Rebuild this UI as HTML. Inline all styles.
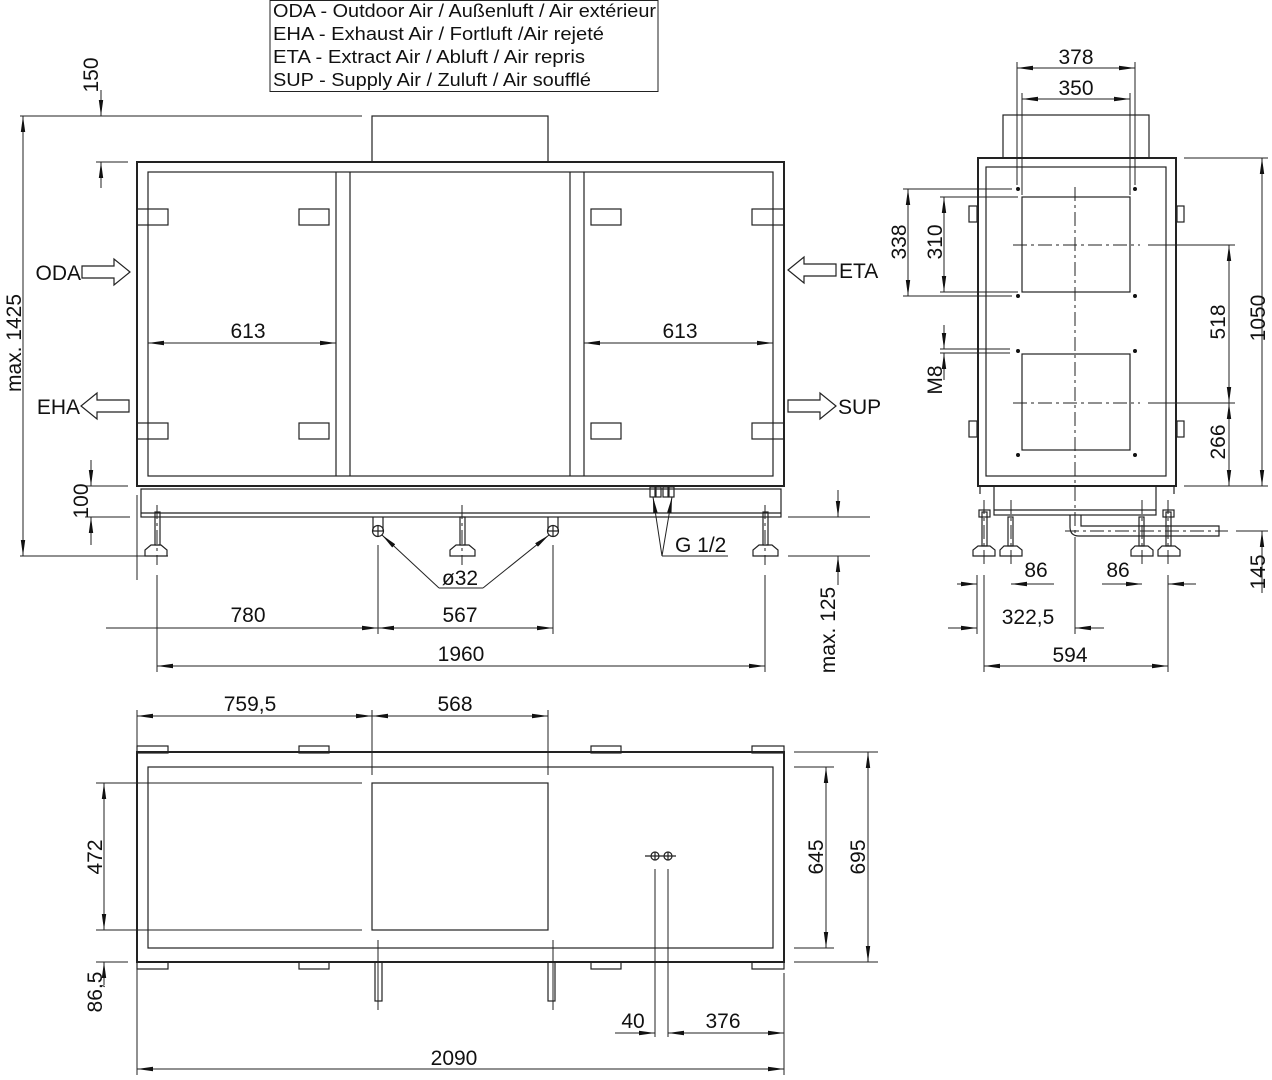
<!DOCTYPE html>
<html><head><meta charset="utf-8"><style>
html,body{margin:0;padding:0;background:#fff;}
svg{display:block;}
text{font-family:"Liberation Sans","DejaVu Sans",sans-serif;font-size:21px;fill:#111;}
.m{text-anchor:middle;}
.l{stroke:#222;stroke-width:1.2;fill:none;}
.t{stroke:#222;stroke-width:2;fill:none;}
.d{stroke:#222;stroke-width:1;fill:none;}
.c{stroke:#222;stroke-width:1;fill:none;stroke-dasharray:14 4 3 4;}
</style></head><body>
<svg width="1272" height="1080" viewBox="0 0 1272 1080" xmlns="http://www.w3.org/2000/svg">
<defs>
<marker id="a" viewBox="0 0 16 6" refX="16" refY="3" markerWidth="16" markerHeight="6" orient="auto-start-reverse" markerUnits="userSpaceOnUse"><path d="M0,0.8 L16,3 L0,5.2z" fill="#111"/></marker>
</defs>

<!-- Legend -->
<rect x="270" y="0.5" width="388" height="91" class="d"/>
<text x="273" y="17" style="font-size:18px" textLength="383" lengthAdjust="spacingAndGlyphs">ODA - Outdoor Air / Außenluft / Air extérieur</text>
<text x="273" y="40" style="font-size:18px" textLength="331" lengthAdjust="spacingAndGlyphs">EHA - Exhaust Air / Fortluft /Air rejeté</text>
<text x="273" y="63" style="font-size:18px" textLength="312" lengthAdjust="spacingAndGlyphs">ETA - Extract Air / Abluft / Air repris</text>
<text x="273" y="86" style="font-size:18px" textLength="318" lengthAdjust="spacingAndGlyphs">SUP - Supply Air / Zuluft / Air soufflé</text>

<!-- ===== FRONT VIEW ===== -->
<rect x="372" y="116" width="176" height="46" class="l"/>
<rect x="137" y="162" width="647" height="324" class="t"/>
<rect x="148" y="172" width="625" height="304" class="l"/>
<line x1="336" y1="172" x2="336" y2="476" class="l"/><line x1="350" y1="172" x2="350" y2="476" class="l"/>
<line x1="570" y1="172" x2="570" y2="476" class="l"/><line x1="584" y1="172" x2="584" y2="476" class="l"/>
<g class="l" fill="#fff">
<rect x="137" y="209" width="31" height="16"/><rect x="299" y="209" width="30" height="16"/>
<rect x="591" y="209" width="30" height="16"/><rect x="752" y="209" width="32" height="16"/>
<rect x="137" y="423" width="31" height="16"/><rect x="299" y="423" width="30" height="16"/>
<rect x="591" y="423" width="30" height="16"/><rect x="752" y="423" width="32" height="16"/>
</g>
<rect x="141" y="489" width="640" height="28" class="l"/>
<line x1="141" y1="513" x2="781" y2="513" class="l"/>
<g class="l">
<rect x="155" y="512" width="5" height="33"/><path d="M151,545 h10 l6,5 v6 h-22 v-6z"/>
<rect x="460" y="517" width="5" height="28"/><path d="M456,545 h13 l6,5 v6 h-25 v-6z"/>
<rect x="763" y="512" width="5" height="33"/><path d="M759,545 h13 l6,5 v6 h-25 v-6z"/>
<path d="M373,517 v14 M383,517 v14"/><circle cx="378" cy="531" r="5.5"/><path d="M372.5,531 h11 M378,525.5 v11"/>
<path d="M548,517 v14 M558,517 v14"/><circle cx="553" cy="531" r="5.5"/><path d="M547.5,531 h11 M553,525.5 v11"/>
<rect x="650" y="487" width="5" height="10"/><rect x="656" y="487" width="5" height="10"/>
<rect x="663" y="487" width="5" height="10"/><rect x="669" y="487" width="5" height="10"/>
</g>
<g class="c"><line x1="157" y1="505" x2="157" y2="565"/><line x1="462" y1="505" x2="462" y2="565"/><line x1="765" y1="505" x2="765" y2="565"/></g>

<path d="M82,266 h32 v-7 l16,13 l-16,13 v-7 h-32z" class="l"/>
<text x="81" y="280" text-anchor="end">ODA</text>
<path d="M129,400 h-32 v-7 l-16,13 l16,13 v-7 h32z" class="l"/>
<text x="80" y="414" text-anchor="end">EHA</text>
<path d="M836,264 h-32 v-7 l-16,13 l16,13 v-7 h32z" class="l"/>
<text x="839" y="278">ETA</text>
<path d="M788,400 h32 v-7 l16,13 l-16,13 v-7 h-32z" class="l"/>
<text x="838" y="414">SUP</text>

<g class="d">
<line x1="20" y1="116" x2="362" y2="116"/>
<line x1="96" y1="162" x2="128" y2="162"/>
<line x1="101" y1="90" x2="101" y2="116" marker-end="url(#a)"/>
<line x1="101" y1="188" x2="101" y2="162" marker-end="url(#a)"/>
<line x1="23" y1="116" x2="23" y2="556" marker-start="url(#a)" marker-end="url(#a)"/>
<line x1="20" y1="556" x2="168" y2="556"/>
<line x1="148" y1="343" x2="336" y2="343" marker-start="url(#a)" marker-end="url(#a)"/>
<line x1="584" y1="343" x2="773" y2="343" marker-start="url(#a)" marker-end="url(#a)"/>
<line x1="85" y1="486" x2="128" y2="486"/><line x1="85" y1="517" x2="130" y2="517"/>
<line x1="91" y1="460" x2="91" y2="486" marker-end="url(#a)"/>
<line x1="91" y1="545" x2="91" y2="517" marker-end="url(#a)"/>
<line x1="137" y1="495" x2="137" y2="580"/>
<line x1="157" y1="575" x2="157" y2="672"/>
<line x1="378" y1="545" x2="378" y2="634"/>
<line x1="553" y1="545" x2="553" y2="634"/>
<line x1="765" y1="575" x2="765" y2="672"/>
<line x1="106" y1="628" x2="378" y2="628" marker-end="url(#a)"/>
<line x1="378" y1="628" x2="553" y2="628" marker-start="url(#a)" marker-end="url(#a)"/>
<line x1="157" y1="666" x2="765" y2="666" marker-start="url(#a)" marker-end="url(#a)"/>
<line x1="439" y1="588" x2="382" y2="535" marker-end="url(#a)"/>
<line x1="439" y1="588" x2="483" y2="588"/>
<line x1="483" y1="588" x2="549" y2="535" marker-end="url(#a)"/>
<line x1="662" y1="556" x2="653" y2="497" marker-end="url(#a)"/>
<line x1="662" y1="556" x2="672" y2="497" marker-end="url(#a)"/>
<line x1="662" y1="556" x2="728" y2="556"/>
<line x1="788" y1="517" x2="870" y2="517"/><line x1="788" y1="556" x2="870" y2="556"/>
<line x1="838" y1="490" x2="838" y2="517" marker-end="url(#a)"/>
<line x1="838" y1="585" x2="838" y2="556" marker-end="url(#a)"/>
</g>
<text class="m" transform="translate(98,75) rotate(-90)">150</text>
<text class="m" transform="translate(21,343) rotate(-90)">max. 1425</text>
<text class="m" x="248" y="338">613</text>
<text class="m" x="680" y="338">613</text>
<text class="m" transform="translate(88,501) rotate(-90)">100</text>
<text class="m" x="248" y="622">780</text>
<text class="m" x="460" y="622">567</text>
<text class="m" x="460" y="585">ø32</text>
<text class="m" x="461" y="661">1960</text>
<text x="675" y="552">G 1/2</text>
<text class="m" transform="translate(835,630) rotate(-90)">max. 125</text>

<!-- ===== SIDE VIEW ===== -->
<rect x="1003" y="115" width="146" height="43" class="l"/>
<rect x="978" y="158" width="198" height="328" class="t"/>
<rect x="986" y="167" width="180" height="309" class="l"/>
<rect x="1022" y="197" width="108" height="95" class="l"/>
<rect x="1022" y="354" width="108" height="96" class="l"/>
<g fill="#111"><circle cx="1018" cy="189" r="2"/><circle cx="1135" cy="189" r="2"/><circle cx="1018" cy="296" r="2"/><circle cx="1135" cy="296" r="2"/>
<circle cx="1018" cy="351" r="2"/><circle cx="1135" cy="351" r="2"/><circle cx="1018" cy="455" r="2"/><circle cx="1135" cy="455" r="2"/></g>
<g class="c">
<line x1="1075" y1="187" x2="1075" y2="540"/>
<line x1="1013" y1="245" x2="1140" y2="245"/>
<line x1="1013" y1="403" x2="1140" y2="403"/>
</g>
<g class="l" fill="#fff">
<rect x="969" y="206" width="8" height="16"/><rect x="969" y="421" width="8" height="16"/>
<rect x="1177" y="206" width="7" height="16"/><rect x="1177" y="421" width="7" height="16"/>
</g>
<g class="l">
<rect x="994" y="486" width="162" height="29"/>
<line x1="994" y1="510" x2="1156" y2="510"/>
<line x1="980" y1="486" x2="980" y2="494"/><line x1="1174" y1="486" x2="1174" y2="494"/>
<rect x="982" y="512" width="5" height="34"/><rect x="979" y="510" width="11" height="7"/>
<path d="M978,546 h12 l5,4 v6 h-22 v-6z"/>
<rect x="1008" y="517" width="5" height="29"/><path d="M1004,546 h13 l5,4 v6 h-22 v-6z"/>
<rect x="1139" y="517" width="5" height="29"/><path d="M1135,546 h13 l5,4 v6 h-22 v-6z"/>
<rect x="1166" y="512" width="5" height="34"/><rect x="1163" y="510" width="11" height="7"/>
<path d="M1162,546 h13 l5,4 v6 h-22 v-6z"/>
<path d="M1070,515 v12 q0,9 9,9 h140 v-10 h-138 v-11"/>
</g>
<g class="c"><line x1="984" y1="500" x2="984" y2="565"/><line x1="1011" y1="500" x2="1011" y2="565"/><line x1="1142" y1="500" x2="1142" y2="565"/><line x1="1168" y1="500" x2="1168" y2="565"/><line x1="1065" y1="531" x2="1228" y2="531"/></g>
<g class="d">
<line x1="1017" y1="62" x2="1017" y2="185"/><line x1="1135" y1="62" x2="1135" y2="185"/>
<line x1="1022" y1="93" x2="1022" y2="195"/><line x1="1130" y1="93" x2="1130" y2="195"/>
<line x1="1017" y1="68" x2="1135" y2="68" marker-start="url(#a)" marker-end="url(#a)"/>
<line x1="1022" y1="99" x2="1130" y2="99" marker-start="url(#a)" marker-end="url(#a)"/>
<line x1="903" y1="189" x2="1012" y2="189"/><line x1="903" y1="296" x2="1012" y2="296"/>
<line x1="940" y1="197" x2="1018" y2="197"/><line x1="940" y1="292" x2="1018" y2="292"/>
<line x1="908" y1="189" x2="908" y2="296" marker-start="url(#a)" marker-end="url(#a)"/>
<line x1="944" y1="197" x2="944" y2="292" marker-start="url(#a)" marker-end="url(#a)"/>
<line x1="940" y1="349" x2="1010" y2="349"/><line x1="940" y1="353" x2="1010" y2="353"/>
<line x1="944" y1="325" x2="944" y2="349" marker-end="url(#a)"/>
<line x1="944" y1="380" x2="944" y2="353" marker-end="url(#a)"/>
<line x1="1148" y1="245" x2="1235" y2="245"/><line x1="1148" y1="403" x2="1235" y2="403"/>
<line x1="1184" y1="158" x2="1268" y2="158"/><line x1="1184" y1="486" x2="1268" y2="486"/>
<line x1="1229" y1="245" x2="1229" y2="403" marker-start="url(#a)" marker-end="url(#a)"/>
<line x1="1229" y1="403" x2="1229" y2="486" marker-start="url(#a)" marker-end="url(#a)"/>
<line x1="1262" y1="158" x2="1262" y2="486" marker-start="url(#a)" marker-end="url(#a)"/>
<line x1="1236" y1="531" x2="1268" y2="531"/>
<line x1="1262" y1="593" x2="1262" y2="531" marker-end="url(#a)"/>
<line x1="977" y1="575" x2="977" y2="634"/>
<line x1="984" y1="575" x2="984" y2="672"/>
<line x1="1168" y1="575" x2="1168" y2="672"/>
<line x1="957" y1="584" x2="977" y2="584" marker-end="url(#a)"/>
<line x1="1054" y1="584" x2="1011" y2="584" marker-end="url(#a)"/>
<line x1="1102" y1="584" x2="1142" y2="584" marker-end="url(#a)"/>
<line x1="1196" y1="584" x2="1168" y2="584" marker-end="url(#a)"/>
<line x1="948" y1="628" x2="977" y2="628" marker-end="url(#a)"/>
<line x1="1104" y1="628" x2="1075" y2="628" marker-end="url(#a)"/>
<line x1="1075" y1="540" x2="1075" y2="634"/>
<line x1="984" y1="666" x2="1168" y2="666" marker-start="url(#a)" marker-end="url(#a)"/>
</g>
<text class="m" x="1076" y="64">378</text>
<text class="m" x="1076" y="95">350</text>
<text class="m" transform="translate(906,242) rotate(-90)">338</text>
<text class="m" transform="translate(942,242) rotate(-90)">310</text>
<text class="m" transform="translate(942,380) rotate(-90)">M8</text>
<text class="m" transform="translate(1225,322) rotate(-90)">518</text>
<text class="m" transform="translate(1225,442) rotate(-90)">266</text>
<text class="m" transform="translate(1265,318) rotate(-90)">1050</text>
<text class="m" transform="translate(1265,572) rotate(-90)">145</text>
<text class="m" x="1036" y="577">86</text>
<text class="m" x="1118" y="577">86</text>
<text class="m" x="1028" y="624">322,5</text>
<text class="m" x="1070" y="662">594</text>

<!-- ===== BOTTOM VIEW ===== -->
<rect x="137" y="752" width="647" height="210" class="t"/>
<rect x="148" y="767" width="625" height="181" class="l"/>
<rect x="372" y="783" width="176" height="147" class="l"/>
<g class="l" fill="#fff">
<rect x="137" y="746" width="31" height="7"/><rect x="299" y="746" width="30" height="7"/>
<rect x="591" y="746" width="30" height="7"/><rect x="752" y="746" width="32" height="7"/>
<rect x="137" y="962" width="31" height="7"/><rect x="299" y="962" width="30" height="7"/>
<rect x="591" y="962" width="30" height="7"/><rect x="752" y="962" width="32" height="7"/>
<rect x="375" y="962" width="7" height="39"/><rect x="548" y="962" width="7" height="39"/>
</g>
<g class="l"><circle cx="655" cy="856" r="4"/><circle cx="668" cy="856" r="4"/><line x1="645" y1="856" x2="676" y2="856"/><line x1="655" y1="852" x2="655" y2="860"/><line x1="668" y1="852" x2="668" y2="860"/></g>
<g class="d">
<line x1="137" y1="710" x2="137" y2="1075"/>
<line x1="372" y1="710" x2="372" y2="775"/><line x1="548" y1="710" x2="548" y2="775"/>
<line x1="378" y1="940" x2="378" y2="1010"/><line x1="553" y1="940" x2="553" y2="1010"/>
<line x1="137" y1="716" x2="372" y2="716" marker-start="url(#a)" marker-end="url(#a)"/>
<line x1="372" y1="716" x2="548" y2="716" marker-start="url(#a)" marker-end="url(#a)"/>
<line x1="96" y1="783" x2="362" y2="783"/><line x1="96" y1="930" x2="362" y2="930"/>
<line x1="96" y1="962" x2="128" y2="962"/>
<line x1="104" y1="783" x2="104" y2="930" marker-start="url(#a)" marker-end="url(#a)"/>
<line x1="104" y1="985" x2="104" y2="962" marker-end="url(#a)"/>
<line x1="794" y1="752" x2="878" y2="752"/><line x1="794" y1="767" x2="834" y2="767"/>
<line x1="794" y1="948" x2="834" y2="948"/><line x1="794" y1="962" x2="878" y2="962"/>
<line x1="826" y1="767" x2="826" y2="948" marker-start="url(#a)" marker-end="url(#a)"/>
<line x1="868" y1="752" x2="868" y2="962" marker-start="url(#a)" marker-end="url(#a)"/>
<line x1="655" y1="869" x2="655" y2="1037"/><line x1="668" y1="869" x2="668" y2="1037"/>
<line x1="784" y1="973" x2="784" y2="1075"/>
<line x1="615" y1="1033" x2="655" y2="1033" marker-end="url(#a)"/>
<line x1="668" y1="1033" x2="784" y2="1033" marker-start="url(#a)" marker-end="url(#a)"/>
<line x1="137" y1="1069" x2="784" y2="1069" marker-start="url(#a)" marker-end="url(#a)"/>
</g>
<text class="m" x="250" y="711">759,5</text>
<text class="m" x="455" y="711">568</text>
<text class="m" transform="translate(102,857) rotate(-90)">472</text>
<text class="m" transform="translate(102,992) rotate(-90)">86,5</text>
<text class="m" transform="translate(823,857) rotate(-90)">645</text>
<text class="m" transform="translate(865,857) rotate(-90)">695</text>
<text class="m" x="633" y="1028">40</text>
<text class="m" x="723" y="1028">376</text>
<text class="m" x="454" y="1065">2090</text>
</svg>
</body></html>
